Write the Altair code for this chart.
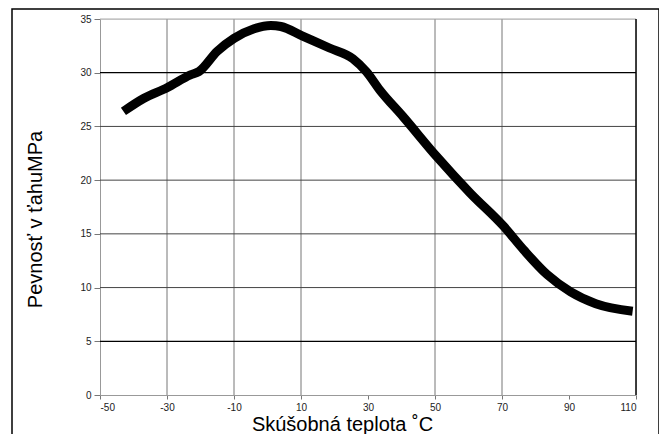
import altair as alt
import pandas as pd

# Curve (temperature °C, strength MPa)
temp = [-43, -37, -30, -23, -20.5, -15, -10, -4, 1, 4, 10.5, 18.5, 25.5, 29.5, 33.5, 40.5, 50.5, 60.5, 70.5, 76.5, 83.5, 90.5, 98, 109]
strength = [26.4, 27.6, 28.6, 29.8, 30.1, 32.0, 33.2, 34.1, 34.4, 34.3, 33.4, 32.3, 31.3, 30.1, 28.4, 25.9, 22.2, 18.8, 15.7, 13.5, 11.2, 9.6, 8.5, 7.8]

x_ticks = [-50, -30, -10, 10, 30, 50, 70, 90, 110]
y_ticks = [0, 5, 10, 15, 20, 25, 30, 35]
v_grid = [-30, -10, 10, 50, 70]
h_grid_light = [10, 15, 20, 25]
h_grid_dark = [5, 30]

FONT = "Liberation Sans"
xs = alt.Scale(domain=[-50, 110], nice=False, zero=False)
ys = alt.Scale(domain=[0, 35], nice=False, zero=False)

df = pd.DataFrame({"t": temp, "s": strength})

base_x = alt.X("t:Q", scale=xs,
               axis=alt.Axis(values=x_ticks, grid=False, title="Skúšobná teplota ˚C",
                             titleFontSize=20, titleFont=FONT, titleFontWeight="normal",
                             titleColor="#000", titleX=242, titleY=35,
                             titleBaseline="alphabetic",
                             labelFont=FONT, labelFontSize=10, labelColor="#222",
                             labelPadding=3, tickSize=4, tickColor="#777",
                             domainColor="#999", labelExpr="'' + datum.value"))
base_y = alt.Y("s:Q", scale=ys,
               axis=alt.Axis(values=y_ticks, grid=False, title="Pevnosť v ťahuMPa",
                             titleFontSize=20, titleFont=FONT, titleFontWeight="normal",
                             titleColor="#000", titleX=-65, titleY=200, titleAngle=-90,
                             titleBaseline="middle",
                             labelFont=FONT, labelFontSize=10, labelColor="#222",
                             labelPadding=3, tickSize=6, tickColor="#777",
                             domainColor="#999", labelExpr="'' + datum.value"))

vg = alt.Chart(pd.DataFrame({"v": v_grid})).mark_rule(color="#777", strokeWidth=1).encode(
    x=alt.X("v:Q", scale=xs))
hl = alt.Chart(pd.DataFrame({"h": h_grid_light})).mark_rule(color="#444", strokeWidth=1).encode(
    y=alt.Y("h:Q", scale=ys))
hd = alt.Chart(pd.DataFrame({"h": h_grid_dark})).mark_rule(color="#000", strokeWidth=1.3).encode(
    y=alt.Y("h:Q", scale=ys))
top = alt.Chart(pd.DataFrame({"h": [35]})).mark_rule(color="#aaa", strokeWidth=1).encode(
    y=alt.Y("h:Q", scale=ys))
right = alt.Chart(pd.DataFrame({"v": [110]})).mark_rule(color="#000", strokeWidth=1.5).encode(
    x=alt.X("v:Q", scale=xs))

line = alt.Chart(df).mark_line(color="#000", strokeWidth=9, interpolate="monotone",
                               strokeCap="butt", strokeJoin="round").encode(x=base_x, y=base_y)

frame = alt.Chart(pd.DataFrame({"a": [0]})).mark_rect(
    fill=None, stroke="#000", strokeWidth=1.5, clip=False).encode(
    x=alt.value(-88), x2=alt.value(559), y=alt.value(-10), y2=alt.value(440))

chart = alt.layer(vg, hl, hd, top, right, line, frame).properties(
    width=536, height=376,
    autosize=alt.AutoSizeParams(type="none"),
    padding={"left": 92, "top": 11, "right": 23, "bottom": 39},
).configure_view(stroke=None).configure(background="white")

chart.save("out.html", embed_options={"renderer": "svg", "actions": False})
